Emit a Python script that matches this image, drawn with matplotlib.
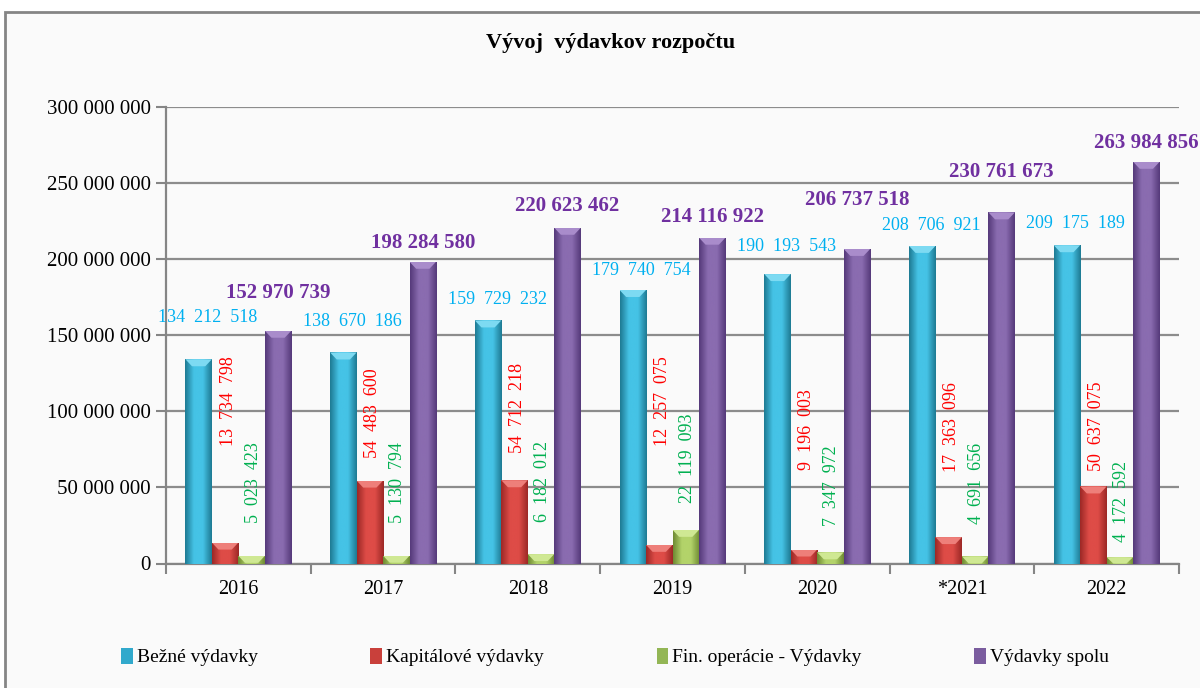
import numpy as np
import matplotlib
matplotlib.use("Agg")
import matplotlib.pyplot as plt
from matplotlib.patches import Rectangle, Polygon
from matplotlib.colors import LinearSegmentedColormap
from matplotlib.ticker import FuncFormatter

# ***** datos *****
roky = ["2016", "2017", "2018", "2019", "2020", "*2021", "2022"]
bezne = [134212518, 138670186, 159729232, 179740754, 190193543, 208706921, 209175189]
kapitalove = [13734798, 54483600, 54712218, 12257075, 9196003, 17363096, 50637075]
fin_operacie = [5023423, 5130794, 6182012, 22119093, 7347972, 4691656, 4172592]
spolu = [152970739, 198284580, 220623462, 214116922, 206737518, 230761673, 263984856]
serie_nazvy = ["Bežné výdavky", "Kapitálové výdavky", "Fin. operácie - Výdavky", "Výdavky spolu"]

# polohy popiskov (stred textu, y v jednotkach osi)
bezne_lbl_y = [161.5e6, 158.9e6, 173.5e6, 192.3e6, 208.1e6, 221.9e6, 223.2e6]
spolu_lbl_y = [177.9e6, 210.7e6, 234.8e6, 227.8e6, 239.0e6, 257.3e6, 276.4e6]
kap_lbl_y = [107e6, 99e6, 102.4e6, 107e6, 88e6, 89.9e6, 90e6]
fin_lbl_y = [53.2e6, 53.2e6, 53.8e6, 68.9e6, 51.2e6, 52.5e6, 40.7e6]

# ***** farby *****
farby_bar = [("#1E7A93", "#45C3E6"), ("#9C2826", "#DE4C47"),
             ("#6E8A32", "#B3D36A"), ("#55397A", "#8A6CB0")]
farby_vrch = ["#7DDAF2", "#EE7F7A", "#CFE893", "#A98CCB"]
farby_leg = ["#31A9CC", "#C9403B", "#93B655", "#7A5C9E"]
farby_txt = ["#00B0F0", "#FF0000", "#00B050", "#7030A0"]

plt.rcParams["font.family"] = ["Liberation Serif", "DejaVu Serif"]

fig = plt.figure(figsize=(12, 6.88), dpi=100)
fig.patch.set_facecolor("white")
ramik = Rectangle((5 / 1200, -0.05), 1.2, 1 - 12 / 688 + 0.05, transform=fig.transFigure,
                  facecolor="#FAFAFA", edgecolor="#858585", linewidth=2, zorder=-10)
fig.patches.append(ramik)

ax = fig.add_axes([166 / 1200, 124.5 / 688, (1179 - 166) / 1200, (581 - 124.5) / 688])
ax.set_facecolor("#FAFAFA")
ax.set_xlim(-0.5, len(roky) - 0.5)
ax.set_ylim(0, 300e6)

x = np.arange(len(roky))
w = 0.183
serie = [bezne, kapitalove, fin_operacie, spolu]
bevel = 300e6 / 457 * 7  # ~7 px


def valec(patch, c_okraj, c_stred, c_vrch):
    # gradient ako v exceli (valcovy efekt) + svetly skos hore
    cmap = LinearSegmentedColormap.from_list("g", [c_okraj, c_stred, c_stred, c_okraj])
    x0, y0 = patch.get_x(), patch.get_y()
    x1, y1 = x0 + patch.get_width(), y0 + patch.get_height()
    grad = np.linspace(0, 1, 64).reshape(1, -1)
    im = ax.imshow(grad, cmap=cmap, aspect="auto", extent=(x0, x1, y0, y1),
                   zorder=3, interpolation="bicubic")
    im.set_clip_path(patch)
    d = min(bevel, patch.get_height())
    sk = Polygon([(x0, y1), (x1, y1), (x1 - 0.25 * (x1 - x0), y1 - d), (x0 + 0.25 * (x1 - x0), y1 - d)],
                 closed=True, facecolor=c_vrch, edgecolor="none", zorder=4)
    ax.add_patch(sk)
    sk.set_clip_path(patch)


for k, (vals, nazov) in enumerate(zip(serie, serie_nazvy)):
    bars = ax.bar(x + (k - 1.5) * w, vals, w, color=farby_leg[k], edgecolor="none",
                  label=nazov, zorder=2)
    for b in bars:
        valec(b, *farby_bar[k], farby_vrch[k])


def fmt(v):
    return f"{v:,}".replace(",", " ")


for i in range(len(roky)):
    ax.text(x[i] - 1.5 * w + 0.062, bezne_lbl_y[i], fmt(bezne[i]).replace(" ", "  "), color=farby_txt[0],
            fontsize=13, ha="center", va="center", zorder=5)
    ax.text(x[i] - 0.5 * w + 0.02, kap_lbl_y[i], fmt(kapitalove[i]).replace(" ", "  "), color=farby_txt[1],
            fontsize=13, ha="center", va="center", rotation=90, zorder=5)
    ax.text(x[i] + 0.5 * w + 0.01, fin_lbl_y[i], fmt(fin_operacie[i]).replace(" ", "  "), color=farby_txt[2],
            fontsize=13, ha="center", va="center", rotation=90, zorder=5)
    ax.text(x[i] + 1.5 * w, spolu_lbl_y[i], fmt(spolu[i]), color=farby_txt[3],
            fontsize=15, fontweight="bold", ha="center", va="center", zorder=5, clip_on=False)

ax.set_yticks(np.arange(0, 300e6 + 1, 50e6))
ax.yaxis.set_major_formatter(FuncFormatter(lambda v, p: fmt(int(v))))
ax.set_xticks(x)
ax.set_xticklabels(roky)
ax.set_xticks(np.arange(-0.5, len(roky), 1), minor=True)
ax.tick_params(axis="x", which="major", length=0, pad=12, labelsize=14.5)
ax.tick_params(axis="x", which="minor", length=7, width=1.5, color="#858585")
ax.tick_params(axis="y", length=7, width=1.5, color="#858585", labelsize=15, pad=4)
ax.grid(axis="y", color="#8C8C8C", linewidth=1.6, zorder=0)
ax.set_axisbelow(True)
for s in ["top", "right"]:
    ax.spines[s].set_visible(False)
for s in ["left", "bottom"]:
    ax.spines[s].set_color("#858585")
    ax.spines[s].set_linewidth(1.6)

fig.text(611 / 1200, 1 - 43 / 688, "Vývoj  výdavkov rozpočtu", fontsize=16, fontweight="bold",
         ha="center", va="center")

leg = fig.legend(loc="center", bbox_to_anchor=(615 / 1200, 31 / 688), ncol=4, frameon=False,
                 fontsize=14, handlelength=0.6, handleheight=0.9, handletextpad=0.2, columnspacing=5.8)

fig.savefig("out.png", dpi=100, facecolor=fig.get_facecolor())
